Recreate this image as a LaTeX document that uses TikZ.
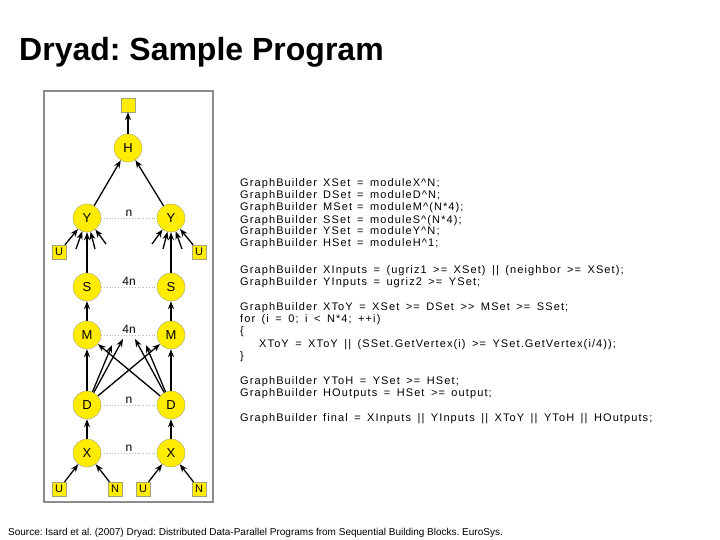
\documentclass[tikz,border=0pt]{standalone}
\usepackage{fontspec}
\setmainfont{Liberation Sans}
\newfontfamily\codefont[LetterSpace=10]{Liberation Sans}
\usetikzlibrary{arrows.meta,positioning,calc}
\definecolor{DryadYellow}{HTML}{FFEC00}
\definecolor{DryadEdge}{HTML}{A3A37A}
\definecolor{DryadFrame}{HTML}{8C8C8C}
\definecolor{DryadDots}{HTML}{B4B4B4}
\newcommand{\graphbuilder}{\makebox[83pt][l]{GraphBuilder}}
\newcommand{\setcol}[1]{\makebox[34pt][l]{#1}}
\newcommand{\codestyle}{\codefont\fontsize{11}{11}\selectfont\spaceskip 6.5pt\relax}
\frenchspacing

\begin{document}
\begin{tikzpicture}[
    x=1pt, y=-1pt,
    vertex/.style={
      circle,
      draw=DryadEdge,
      fill=DryadYellow,
      minimum size=28pt,
      inner sep=0pt,
      font=\fontsize{13}{13}\selectfont
    },
    port/.style={
      rectangle,
      draw=DryadEdge,
      fill=DryadYellow,
      minimum size=14pt,
      inner sep=0pt,
      font=\fontsize{11}{11}\selectfont
    },
    arr/.style={
      -{Stealth[length=8pt,width=6pt]},
      line width=1.3pt
    },
    pair/.style={
      dotted,
      DryadDots,
      line width=0.8pt
    },
    note/.style={
      font=\fontsize{12}{12}\selectfont,
      inner sep=1pt,
      text=black
    },
    code/.style={
      anchor=base west,
      inner sep=0pt,
      font=\codestyle
    }
  ]
  \useasboundingbox (0,0) rectangle (720,540);

  % Title
  \node[anchor=base west, inner sep=0pt, font=\fontsize{32}{32}\selectfont\bfseries]
    (title) at (19,61) {Dryad: Sample Program};

  % Frame of the graph
  \draw[DryadFrame, line width=1.2pt] (44,91) rectangle (213,502);

  % Output
  \node[port] (out) at (128,105) {};
  \node[vertex] (h) at (128,148) {H};

  % Y layer
  \node[vertex] (yl) at (87,218) {Y};
  \node[vertex] (yr) at (171,218) {Y};
  \node[port] (ul) at (59,252) {U};
  \node[port] (ur) at (199,252) {U};

  % S and M layers
  \node[vertex] (sl) at (87,287) {S};
  \node[vertex] (sr) at (171,287) {S};
  \node[vertex] (ml) at (87,335) {M};
  \node[vertex] (mr) at (171,335) {M};

  % D and X layers
  \node[vertex] (dl) at (87,405) {D};
  \node[vertex] (dr) at (171,405) {D};
  \node[vertex] (xl) at (87,453) {X};
  \node[vertex] (xr) at (171,453) {X};

  % Inputs
  \node[port] (u1) at (59,489) {U};
  \node[port] (n1) at (115,489) {N};
  \node[port] (u2) at (143,489) {U};
  \node[port] (n2) at (199,489) {N};

  % Free ends of the partial edges
  \coordinate (ylin1) at (76,249);
  \coordinate (ylin2) at (95,249);
  \coordinate (ylin3) at (106,244);
  \coordinate (yrin1) at (152,244);
  \coordinate (yrin2) at (163,249);
  \coordinate (yrin3) at (182,249);
  \coordinate (dlout1) at (112,345);
  \coordinate (dlout2) at (123,339);
  \coordinate (drout1) at (146,345);
  \coordinate (drout2) at (135,339);

  % Set sizes
  \draw[pair] (yl) -- (yr) node[midway,above,note] {n};
  \draw[pair] (sl) -- (sr) node[midway,above,note] {4n};
  \draw[pair] (ml) -- (mr) node[midway,above,note] {4n};
  \draw[pair] (dl) -- (dr) node[midway,above,note] {n};
  \draw[pair] (xl) -- (xr) node[midway,above,note] {n};

  % Arrows
  \draw[arr] (h) -- (out);
  \draw[arr] (yl) -- (h);
  \draw[arr] (yr) -- (h);
  \draw[arr] (ul) -- (yl);
  \draw[arr] (ur) -- (yr);
  \draw[arr] (sl) -- (yl);
  \draw[arr] (sr) -- (yr);
  \draw[arr] (ylin1) -- (yl);
  \draw[arr] (ylin2) -- (yl);
  \draw[arr] (ylin3) -- (yl);
  \draw[arr] (yrin1) -- (yr);
  \draw[arr] (yrin2) -- (yr);
  \draw[arr] (yrin3) -- (yr);
  \draw[arr] (ml) -- (sl);
  \draw[arr] (mr) -- (sr);
  \draw[arr] (dl) -- (ml);
  \draw[arr] (dr) -- (mr);
  \draw[arr] (dl) -- (mr);
  \draw[arr] (dr) -- (ml);
  \draw[arr] (dl) -- (dlout1);
  \draw[arr] (dl) -- (dlout2);
  \draw[arr] (dr) -- (drout1);
  \draw[arr] (dr) -- (drout2);
  \draw[arr] (xl) -- (dl);
  \draw[arr] (xr) -- (dr);
  \draw[arr] (u1) -- (xl);
  \draw[arr] (n1) -- (xl);
  \draw[arr] (u2) -- (xr);
  \draw[arr] (n2) -- (xr);

  % Program text
  \node[code] (l1) at (240,187) {\graphbuilder\setcol{XSet}= moduleX\textasciicircum N;};
  \node[code] (l2) at (240,199) {\graphbuilder\setcol{DSet}= moduleD\textasciicircum N;};
  \node[code] (l3) at (240,211) {\graphbuilder\setcol{MSet}= moduleM\textasciicircum(N*4);};
  \node[code] (l4) at (240,223) {\graphbuilder\setcol{SSet}= moduleS\textasciicircum(N*4);};
  \node[code] (l5) at (240,235) {\graphbuilder\setcol{YSet}= moduleY\textasciicircum N;};
  \node[code] (l6) at (240,247) {\graphbuilder\setcol{HSet}= moduleH\textasciicircum 1;};

  \node[code] (l7) at (240,273) {\graphbuilder XInputs = (ugriz1 >= XSet) || (neighbor >= XSet);};
  \node[code] (l8) at (240,285) {\graphbuilder YInputs = ugriz2 >= YSet;};

  \node[code] (l9) at (240,310) {\graphbuilder XToY = XSet >= DSet >> MSet >= SSet;};
  \node[code] (l10) at (240,322) {for (i = 0; i < N*4; ++i)};
  \node[code] (l11) at (240,334) {\{};
  \node[code] (l12) at (259,347) {XToY = XToY || (SSet.GetVertex(i) >= YSet.GetVertex(i/4));};
  \node[code] (l13) at (240,359) {\}};

  \node[code] (l14) at (240,384) {\graphbuilder YToH = YSet >= HSet;};
  \node[code] (l15) at (240,396) {\graphbuilder HOutputs = HSet >= output;};

  \node[code] (l16) at (240,421) {\graphbuilder final = XInputs || YInputs || XToY || YToH || HOutputs;};

  % Source
  \node[anchor=base west, inner sep=0pt, font=\fontsize{10}{10}\selectfont]
    (source) at (8,535) {Source: Isard et al. (2007) Dryad: Distributed Data-Parallel Programs from Sequential Building Blocks. EuroSys.};
\end{tikzpicture}
\end{document}
